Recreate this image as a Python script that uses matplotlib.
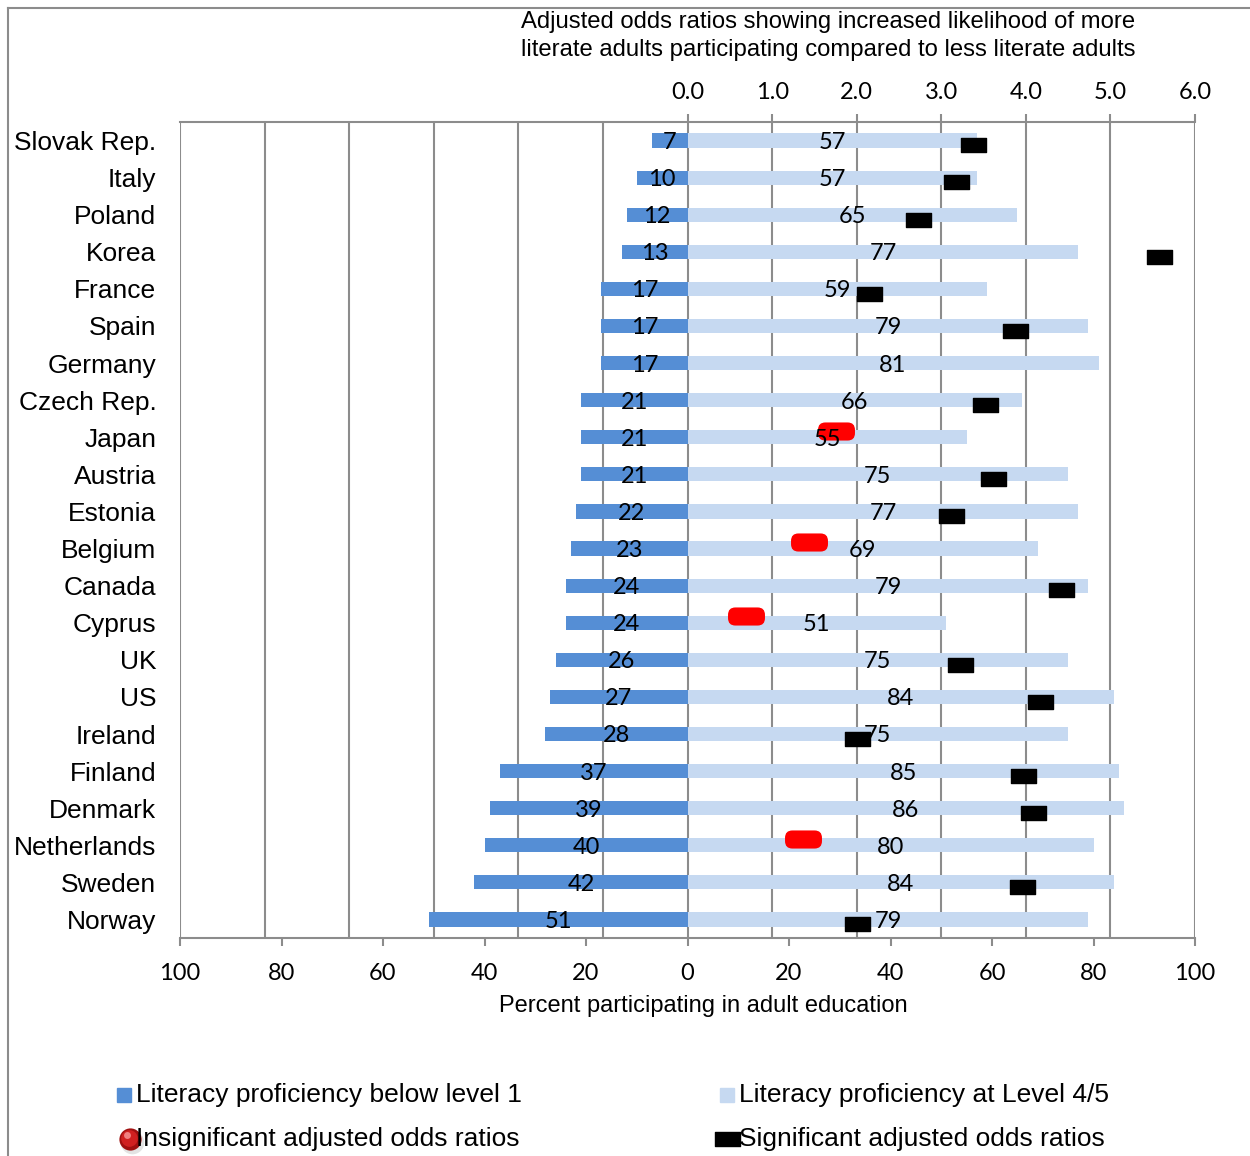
import numpy as np
import matplotlib
matplotlib.use("Agg")
import matplotlib.pyplot as plt
from matplotlib.path import Path
from matplotlib.patches import Rectangle, BoxStyle
from matplotlib.lines import Line2D

countries = ["Slovak Rep.", "Italy", "Poland", "Korea", "France", "Spain", "Germany",
             "Czech Rep.", "Japan", "Austria", "Estonia", "Belgium", "Canada", "Cyprus",
             "UK", "US", "Ireland", "Finland", "Denmark", "Netherlands", "Sweden", "Norway"]
below_level1 = [7, 10, 12, 13, 17, 17, 17, 21, 21, 21, 22, 23, 24, 24, 26, 27, 28, 37, 39, 40, 42, 51]
level45 = [57, 57, 65, 77, 59, 79, 81, 66, 55, 75, 77, 69, 79, 51, 75, 84, 75, 85, 86, 80, 84, 79]
odds_ratio = [3.38, 3.17, 2.73, 5.58, 2.15, 3.87, np.nan, 3.52, 1.76, 3.61, 3.11, 1.44, 4.42,
              0.69, 3.22, 4.17, 2.00, 3.97, 4.09, 1.37, 3.95, 2.00]
significant = [True, True, True, True, True, True, False, True, False, True, True, False, True,
               False, True, True, True, True, True, False, True, True]
or_ticks = [0, 1, 2, 3, 4, 5, 6]
pct_ticks = [-100, -80, -60, -40, -20, 0, 20, 40, 60, 80, 100]

DARK = "#558ED5"
LIGHT = "#C6D9F1"
GRID = "#8C8C8C"
SANS = ["Liberation Sans", "DejaVu Sans"]
NUM = ["Lato", "DejaVu Sans"]

OR_MAX = 6.0
scale = 100.0 / OR_MAX  # percent units per odds-ratio unit

fig = plt.figure(figsize=(12.5, 11.56), dpi=100)
ax = fig.add_axes([180 / 1250, 1 - 938 / 1156, (1195 - 180) / 1250, (938 - 122) / 1156])

y = np.arange(len(countries))
ax.barh(y, -np.array(below_level1), height=0.38, color=DARK, zorder=2)
ax.barh(y, np.array(level45), height=0.38, color=LIGHT, zorder=2)

# gridlines on the odds-ratio scale, mirrored
for k in range(-6, 7):
    ax.axvline(k * scale, color=GRID, lw=1.5, zorder=1)

# markers
rect_path = Path([(-1, -0.56), (1, -0.56), (1, 0.56), (-1, 0.56), (-1, -0.56)],
                 [Path.MOVETO, Path.LINETO, Path.LINETO, Path.LINETO, Path.CLOSEPOLY])
round_path = BoxStyle.Round(pad=0, rounding_size=0.4)(-1, -0.49, 2, 0.98, 1.0)

orv = np.array(odds_ratio)
sig = np.array(significant)
ok = ~np.isnan(orv)
ax.plot(orv[ok & sig] * scale, y[ok & sig] + 0.13, linestyle="none", marker=rect_path,
        markersize=18, color="black", zorder=3)
ax.plot(orv[ok & ~sig] * scale, y[ok & ~sig] - 0.17, linestyle="none", marker=round_path,
        markersize=26.6, color="#FF0000", markeredgewidth=0, zorder=3)

# value labels at bar centers
for yi, v in zip(y, below_level1):
    ax.text(-v / 2, yi, str(v), ha="center", va="center_baseline", fontsize=17, family=NUM, zorder=4)
for yi, v in zip(y, level45):
    ax.text(v / 2, yi, str(v), ha="center", va="center_baseline", fontsize=17, family=NUM, zorder=4)

ax.set_xlim(-100, 100)
ax.set_ylim(len(countries) - 0.5, -0.5)
ax.set_yticks(y)
ax.set_yticklabels(countries, fontsize=19, family=SANS)
ax.tick_params(axis="y", length=0, pad=17)
ax.set_xticks(pct_ticks)
ax.set_xticklabels([str(abs(t)) for t in pct_ticks], fontsize=17, family=NUM)
ax.tick_params(axis="x", direction="out", length=6, width=1.5, color=GRID, pad=12)
for s in ["left", "right"]:
    ax.spines[s].set_visible(False)
for s in ["top", "bottom"]:
    ax.spines[s].set_color(GRID)
    ax.spines[s].set_linewidth(1.5)

sec = ax.secondary_xaxis("top", functions=(lambda x: x / scale, lambda x: x * scale))
sec.set_xticks(or_ticks)
sec.set_xticklabels([f"{t:.1f}" for t in or_ticks], fontsize=17, family=NUM)
sec.tick_params(direction="out", length=6, width=1.5, color=GRID, pad=8)
sec.spines["top"].set_visible(False)

fig.text(703 / 1250, 1 - 1006 / 1156, "Percent participating in adult education",
         ha="center", va="center", fontsize=17, family=SANS)
fig.text(828 / 1250, 1 - 36 / 1156,
         "Adjusted odds ratios showing increased likelihood of more\n"
         "literate adults participating compared to less literate adults",
         ha="center", va="center", fontsize=17.2, family=SANS, linespacing=1.3)

# legend (manual)
def fx(px):
    return px / 1250

def fy(py):
    return 1 - py / 1156

LEG = 19
fig.add_artist(Rectangle((fx(117), fy(1102)), 14 / 1250, 14 / 1156, transform=fig.transFigure,
                         color=DARK))
fig.text(fx(136), fy(1095), "Literacy proficiency below level 1", ha="left", va="center",
         fontsize=LEG, family=SANS)
fig.add_artist(Rectangle((fx(720), fy(1102)), 14 / 1250, 14 / 1156, transform=fig.transFigure,
                         color=LIGHT))
fig.text(fx(739), fy(1095), "Literacy proficiency at Level 4/5", ha="left", va="center",
         fontsize=LEG, family=SANS)
# red ball with simple shading
fig.add_artist(Line2D([fx(132)], [fy(1142)], transform=fig.transFigure, marker="o",
                      markersize=17, color="#D8D8D8", markeredgewidth=0, alpha=0.7))
fig.add_artist(Line2D([fx(130)], [fy(1139)], transform=fig.transFigure, marker="o",
                      markersize=16, color="#A01010", markeredgewidth=0))
fig.add_artist(Line2D([fx(129)], [fy(1137.5)], transform=fig.transFigure, marker="o",
                      markersize=12, color="#D02020", markeredgewidth=0))
fig.add_artist(Line2D([fx(127.5)], [fy(1135)], transform=fig.transFigure, marker="o",
                      markersize=5, color="#F08080", markeredgewidth=0))
fig.text(fx(136), fy(1139), "Insignificant adjusted odds ratios", ha="left", va="center",
         fontsize=LEG, family=SANS)
fig.add_artist(Line2D([fx(727)], [fy(1139)], transform=fig.transFigure, marker=rect_path,
                      markersize=18, color="black", linestyle="none"))
fig.text(fx(739), fy(1139), "Significant adjusted odds ratios", ha="left", va="center",
         fontsize=LEG, family=SANS)

# outer frame (left and top)
fig.add_artist(Line2D([fx(8), fx(8)], [0, fy(8)], transform=fig.transFigure, color=GRID, lw=1.5))
fig.add_artist(Line2D([fx(8), 1], [fy(8), fy(8)], transform=fig.transFigure, color=GRID, lw=1.5))

fig.savefig("out.png", dpi=100)
